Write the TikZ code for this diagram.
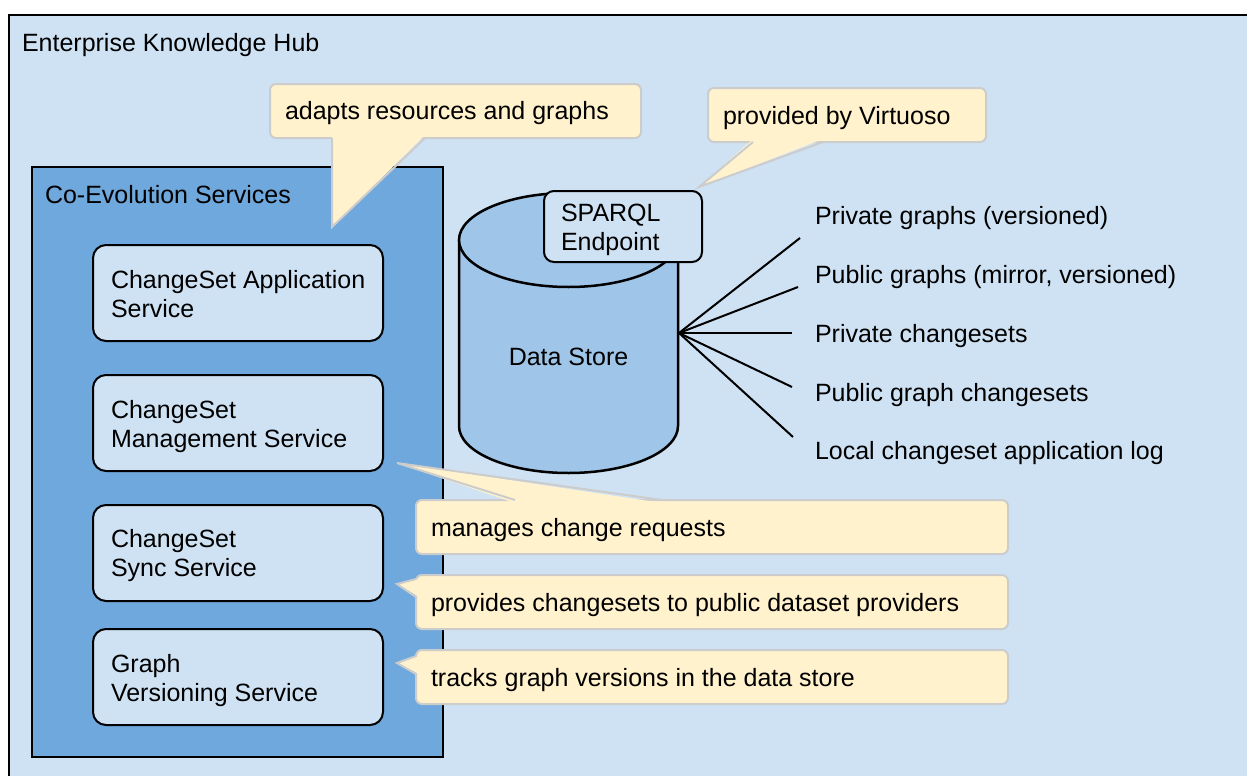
\documentclass[tikz,border=0pt]{standalone}
\usepackage{fontspec}
\setmainfont{Liberation Sans}
\definecolor{hubbg}{HTML}{CFE2F3}
\definecolor{midblue}{HTML}{6FA8DC}
\definecolor{storeblue}{HTML}{9FC5E8}
\definecolor{notefill}{HTML}{FFF2CC}
\definecolor{noteedge}{HTML}{CCCCCC}
\begin{document}
\begin{tikzpicture}[x=1pt,y=-1pt,
  font=\fontsize{25}{29}\selectfont,
  lbl/.style={anchor=base west, inner sep=0pt, outer sep=0pt},
  svc/.style={draw=black, line width=2pt, fill=hubbg, rounded corners=13pt,
    minimum width=290pt, minimum height=96pt, anchor=north west,
    inner sep=0pt, outer sep=0pt},
  note/.style={draw=noteedge, line width=2pt, fill=notefill, rounded corners=6pt,
    minimum height=54pt, anchor=north west, inner sep=0pt, outer sep=0pt},
  tipedge/.style={draw=noteedge, line width=2pt},
  fanline/.style={draw=black, line width=2pt}]

\useasboundingbox (0,0) rectangle (1247,776);
\fill[white] (0,0) rectangle (1247,776);

% hub background, open to the right and bottom
\fill[hubbg] (9,15) rectangle (1252,782);
\draw[line width=2.5pt] (9,782) -- (9,15) -- (1252,15);
\node[lbl] (hubTitle) at (22,52) {Enterprise Knowledge Hub};

% co-evolution services container
\node[draw=black, line width=2pt, fill=midblue, minimum width=411pt,
  minimum height=590pt, anchor=north west, inner sep=0pt, outer sep=0pt]
  (coevo) at (32,167) {};
\node[lbl] (coevoTitle) at (45,203) {Co-Evolution Services};

% services
\node[svc] (app) at (93,245) {};
\node[lbl] (appTxt) at ([xshift=18pt,yshift=-43pt]app.north west)
  {\parbox[t]{270pt}{ChangeSet Application\\Service}};
\node[svc] (mgmt) at (93,375) {};
\node[lbl] (mgmtTxt) at ([xshift=18pt,yshift=-43pt]mgmt.north west)
  {\parbox[t]{270pt}{ChangeSet\\Management Service}};
\node[svc] (sync) at (93,505) {};
\node[lbl] (syncTxt) at ([xshift=18pt,yshift=-42pt]sync.north west)
  {\parbox[t]{270pt}{ChangeSet\\Sync Service}};
\node[svc] (gver) at (93,629) {};
\node[lbl] (gverTxt) at ([xshift=18pt,yshift=-43pt]gver.north west)
  {\parbox[t]{270pt}{Graph\\Versioning Service}};

% data store cylinder
\filldraw[fill=storeblue, line width=2.5pt] (459,240) -- (459,426)
  arc[start angle=180, end angle=360, x radius=109.5pt, y radius=47pt] -- (678,240);
\filldraw[fill=storeblue, line width=2.5pt] (568.5,240)
  ellipse[x radius=109.5pt, y radius=47pt];
\node[anchor=base, inner sep=0pt] (store) at (568.5,365) {Data Store};

% SPARQL endpoint
\node[draw=black, line width=2pt, fill=hubbg, rounded corners=10pt,
  minimum width=158pt, minimum height=71pt, anchor=north west,
  inner sep=0pt, outer sep=0pt] (sparql) at (544,191) {};
\node[lbl] (sparqlTxt) at (561,221) {\parbox[t]{130pt}{SPARQL\\Endpoint}};

% contents of the store
\coordinate (fanRoot) at (679,333);
\coordinate (e1) at (800,238);
\coordinate (e2) at (798,287);
\coordinate (e3) at (792,333);
\coordinate (e4) at (792,387);
\coordinate (e5) at (793,437);
\foreach \e in {e1,e2,e3,e4,e5} \draw[fanline] (fanRoot) -- (\e);
\node[lbl] (g1) at (815,224) {Private graphs (versioned)};
\node[lbl] (g2) at (815,283) {Public graphs (mirror, versioned)};
\node[lbl] (g3) at (815,342) {Private changesets};
\node[lbl] (g4) at (815,401) {Public graph changesets};
\node[lbl] (g5) at (815,459) {Local changeset application log};

% callouts
\node[note, minimum width=371pt] (adapt) at (270,84) {};
\fill[notefill] (332,135) -- (332,227) -- (425,135) -- cycle;
\draw[tipedge] (332,138) -- (332,227) -- (425,138);
\node[lbl] (adaptTxt) at (285,119) {adapts resources and graphs};

\node[note, minimum width=278pt] (virt) at (708,88) {};
\fill[notefill] (753,139) -- (699,187) -- (823,139) -- cycle;
\draw[tipedge] (753,142) -- (699,187) -- (823,142);
\node[lbl] (virtTxt) at (723,124) {provided by Virtuoso};

\node[note, minimum width=592pt] (manage) at (416,500) {};
\fill[notefill] (515,503) -- (397,463) -- (662,503) -- cycle;
\draw[tipedge] (515,500) -- (397,463) -- (662,500);
\node[lbl] (manageTxt) at (431,536) {manages change requests};

\node[note, minimum width=592pt] (provide) at (416,575) {};
\fill[notefill] (419,579) -- (397,584) -- (419,597) -- cycle;
\draw[tipedge] (416,579) -- (397,584) -- (416,597);
\node[lbl] (provideTxt) at (431,611) {provides changesets to public dataset providers};

\node[note, minimum width=592pt] (track) at (416,650) {};
\fill[notefill] (419,656) -- (397,663) -- (419,674) -- cycle;
\draw[tipedge] (416,656) -- (397,663) -- (416,674);
\node[lbl] (trackTxt) at (431,686) {tracks graph versions in the data store};
\end{tikzpicture}
\end{document}
